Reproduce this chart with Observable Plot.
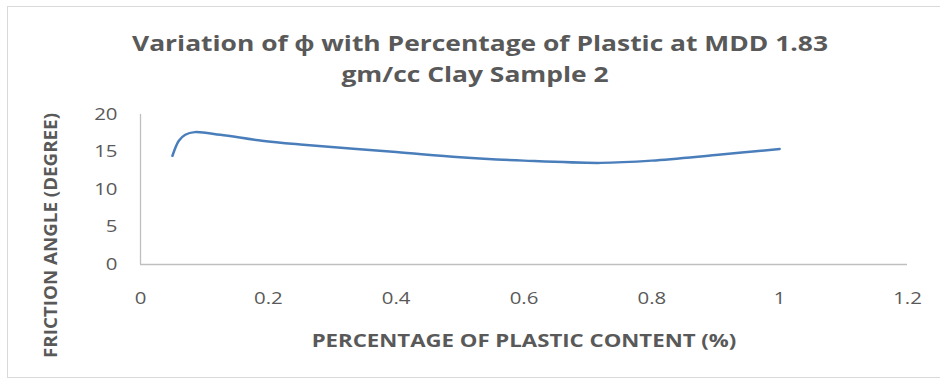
<!DOCTYPE html>
<html>
<head>
<meta charset="utf-8">
<script src="https://cdn.jsdelivr.net/npm/d3@7"></script>
<script src="https://cdn.jsdelivr.net/npm/@observablehq/plot@0.6"></script>
<style>
  html, body { margin: 0; padding: 0; background: #fff; }
  #wrap { position: relative; width: 940px; height: 379px; overflow: hidden; }
  #frame { position: absolute; left: 7px; top: 6px; width: 940px; height: 372px; border: 1px solid #d9d9d9; box-sizing: border-box; pointer-events: none; }
  #chart { position: absolute; left: 0; top: 0; }
</style>
</head>
<body>
<div id="wrap">
  <div id="chart"></div>
  <div id="frame"></div>
</div>
<script>
const plasticContent = [0.05, 0.06, 0.07, 0.085, 0.125, 0.19, 0.25, 0.4, 0.5, 0.6, 0.72, 0.8, 0.9, 1.0];
const frictionAngle = [14.5, 16.5, 17.3, 17.65, 17.3, 16.5, 16.0, 15.0, 14.3, 13.85, 13.55, 13.85, 14.6, 15.4];
const xTicks = [0, 0.2, 0.4, 0.6, 0.8, 1, 1.2];
const yTicks = [0, 5, 10, 15, 20];
const titleLines = ["Variation of ϕ with Percentage of Plastic at MDD 1.83", "gm/cc Clay Sample 2"];
const xLabel = "PERCENTAGE OF PLASTIC CONTENT (%)";
const yLabel = "FRICTION ANGLE (DEGREE)";

const data = plasticContent.map((x, i) => ({x, y: frictionAngle[i]}));
const grey = "#595959";

const chart = Plot.plot({
  width: 940,
  height: 379,
  marginLeft: 140,
  marginRight: 33,
  marginTop: 114,
  marginBottom: 115,
  style: { fontFamily: "'Open Sans', sans-serif", fontSize: "17px", color: grey, background: "transparent" },
  x: { domain: [0, 1.2], label: null },
  y: { domain: [0, 20], label: null },
  marks: [
    Plot.axisX({ ticks: xTicks, tickSize: 0, tickPadding: 27, tickFormat: d => String(d), fontSize: 17, fill: grey }),
    Plot.axisY({ ticks: yTicks, tickSize: 0, tickPadding: 23, fontSize: 17, fill: grey }),
    Plot.ruleX([0], { stroke: "#bfbfbf", strokeWidth: 1.3 }),
    Plot.ruleY([0], { stroke: "#bfbfbf", strokeWidth: 1.3 }),
    Plot.lineY(data, { x: "x", y: "y", curve: "catmull-rom", stroke: "#4a7ebb", strokeWidth: 2.5 }),
    Plot.text([titleLines[0]], { frameAnchor: "top", lineAnchor: "bottom", dx: -44, dy: -64, fontWeight: "bold", fontSize: 22, fill: grey }),
    Plot.text([titleLines[1]], { frameAnchor: "top", lineAnchor: "bottom", dx: -49, dy: -33, fontWeight: "bold", fontSize: 22, fill: grey }),
    Plot.text([xLabel], { frameAnchor: "bottom", lineAnchor: "bottom", dy: 82, fontWeight: "bold", fontSize: 18.5, fill: grey }),
    Plot.text([yLabel], { frameAnchor: "left", textAnchor: "middle", lineAnchor: "middle", dx: -89, dy: 46, rotate: -90, fontWeight: "bold", fontSize: 18.5, fill: grey })
  ]
});
document.getElementById("chart").appendChild(chart);

// The reference image is horizontally stretched (~1.2x); widen horizontal texts to match.
d3.select(chart).selectAll("text").each(function() {
  const t = this;
  const isRot = (t.getAttribute("transform") || "").includes("rotate");
  const len = t.getComputedTextLength();
  if (!len) return;
  if (isRot) {
    t.setAttribute("textLength", 245);
  } else {
    t.setAttribute("textLength", len * 1.2);
  }
  t.setAttribute("lengthAdjust", "spacingAndGlyphs");
});
</script>
</body>
</html>
